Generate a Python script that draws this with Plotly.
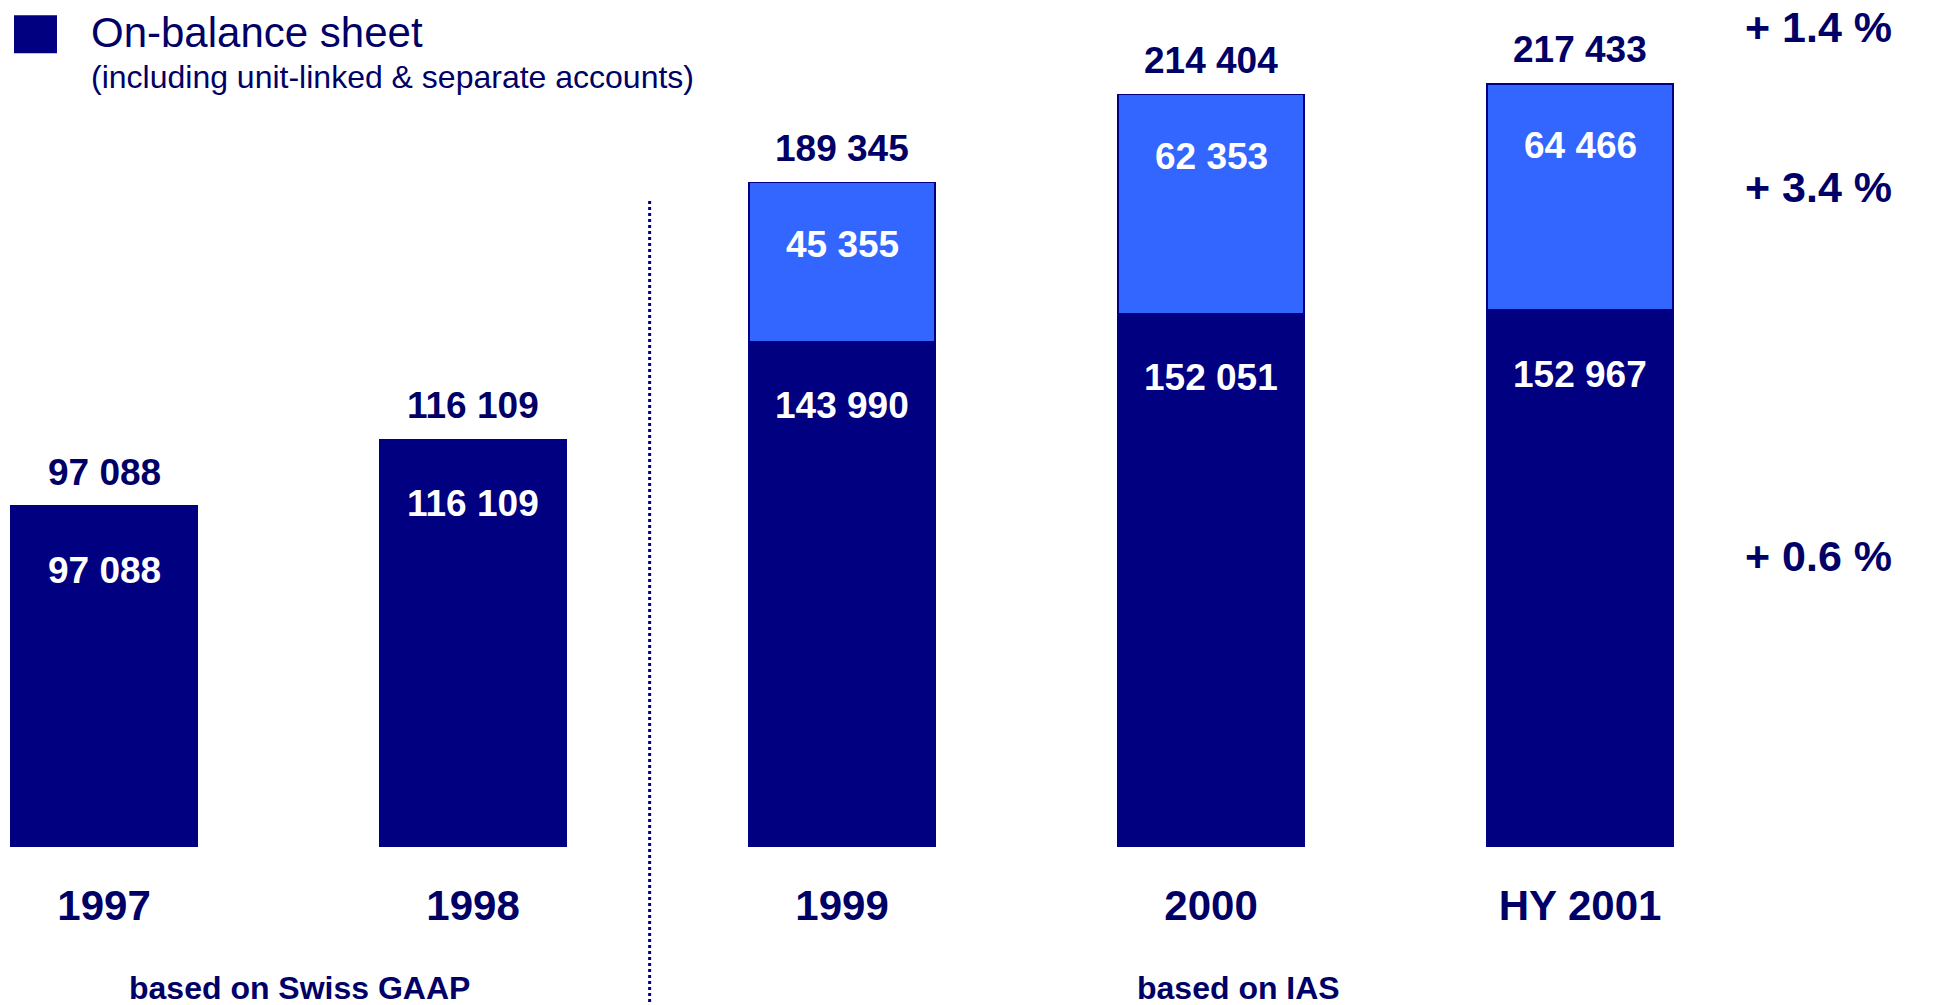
import plotly.graph_objects as go

# Assets under management (CHF million) by reporting period
periods = ["1997", "1998", "1999", "2000", "HY 2001"]
on_balance = [97088, 116109, 143990, 152051, 152967]
unit_linked = [0, 0, 45355, 62353, 64466]
totals = [97088, 116109, 189345, 214404, 217433]

# Growth rates shown at the right (total, unit-linked, on-balance)
growth_labels = ["+ 1.4 %", "+ 3.4 %", "+ 0.6 %"]

legend_title = "On-balance sheet"
legend_sub = "(including unit-linked & separate accounts)"
basis_labels = ["based on Swiss GAAP", "based on IAS"]

NAVY = "#000080"
TEXT = "#000066"
LIGHT = "#3366FF"
FONT = "Liberation Sans, Arial, sans-serif"


def fmt(v):
    return f"{v:,}".replace(",", " ")


fig = go.Figure()
fig.add_trace(go.Bar(
    x=periods, y=on_balance, width=0.504,
    marker=dict(color=NAVY, line=dict(color=NAVY, width=1.5)),
    hoverinfo="skip", showlegend=False,
))
fig.add_trace(go.Bar(
    x=periods, y=unit_linked, width=0.504,
    marker=dict(color=LIGHT, line=dict(color=NAVY, width=1.5)),
    hoverinfo="skip", showlegend=False,
))

annotations = []
# totals above bars (x given as category index)
for i, t in enumerate(totals):
    annotations.append(dict(
        x=i, y=t, xref="x", yref="y", text=fmt(t), showarrow=False,
        yanchor="middle", yshift=34,
        font=dict(family=FONT, size=37, color=TEXT, weight="bold"),
    ))
# values inside each segment, near its top
for i, (a, b) in enumerate(zip(on_balance, unit_linked)):
    annotations.append(dict(
        x=i, y=a, xref="x", yref="y", text=fmt(a), showarrow=False,
        yanchor="middle", yshift=-64,
        font=dict(family=FONT, size=37, color="white", weight="bold"),
    ))
    if b:
        annotations.append(dict(
            x=i, y=a + b, xref="x", yref="y", text=fmt(b), showarrow=False,
            yanchor="middle", yshift=-62,
            font=dict(family=FONT, size=37, color="white", weight="bold"),
        ))

# growth rates on the right
for lbl, yp in zip(growth_labels, [0.968, 0.779, 0.344]):
    annotations.append(dict(
        x=0.935, y=yp, xref="paper", yref="paper", text=lbl, showarrow=False,
        xanchor="center", yanchor="middle",
        font=dict(family=FONT, size=43, color=TEXT, weight="bold"),
    ))

# legend text
annotations.append(dict(
    x=0.046, y=0.962, xref="paper", yref="paper", text=legend_title,
    showarrow=False, xanchor="left", yanchor="middle",
    font=dict(family=FONT, size=42, color=TEXT),
))
annotations.append(dict(
    x=0.046, y=0.909, xref="paper", yref="paper", text=legend_sub,
    showarrow=False, xanchor="left", yanchor="middle",
    font=dict(family=FONT, size=32, color=TEXT),
))

# accounting basis captions below the axis
for lbl, xp in zip(basis_labels, [0.154, 0.637]):
    annotations.append(dict(
        x=xp, y=-0.1665, xref="paper", yref="paper", text=lbl, showarrow=False,
        xanchor="center", yanchor="middle",
        font=dict(family=FONT, size=32, color=TEXT, weight="bold"),
    ))

shapes = [
    # legend swatch
    dict(type="rect", xref="paper", yref="paper",
         x0=0.0072, x1=0.0293, y0=0.937, y1=0.982,
         fillcolor=NAVY, line=dict(width=0)),
    # separator between Swiss GAAP and IAS periods
    dict(type="line", xref="paper", yref="paper",
         x0=0.334, x1=0.334, y0=-0.19, y1=0.766,
         line=dict(color=NAVY, width=3, dash="dot")),
]

fig.update_layout(
    width=1945, height=1005,
    margin=dict(l=0, r=0, t=0, b=158),
    barmode="stack",
    plot_bgcolor="white", paper_bgcolor="white",
    annotations=annotations, shapes=shapes,
    xaxis=dict(
        type="category", range=[-0.282, 4.989],
        showgrid=False, showline=False, zeroline=False,
        ticks="", ticklabelstandoff=30,
        tickfont=dict(family=FONT, size=42, color=TEXT, weight="bold"),
    ),
    yaxis=dict(range=[0, 241300], visible=False, fixedrange=True),
    showlegend=False,
)

fig.write_html("out.html")
